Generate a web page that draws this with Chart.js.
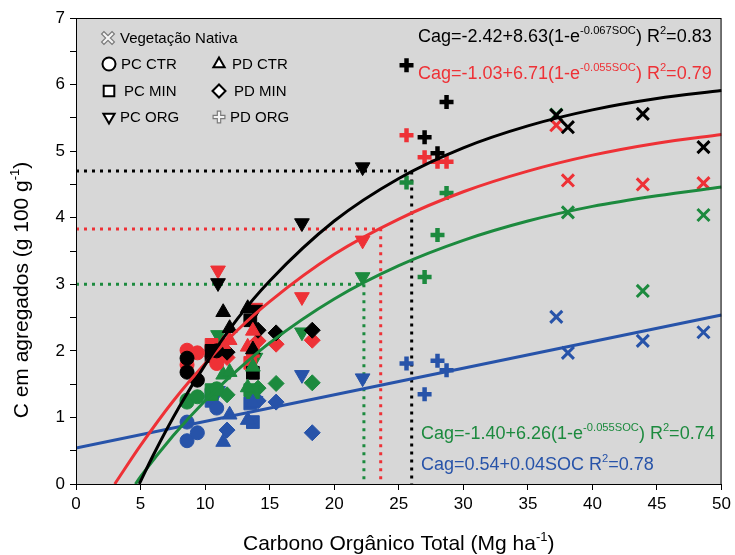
<!DOCTYPE html>
<html>
<head>
<meta charset="utf-8">
<script src="https://cdn.jsdelivr.net/npm/chart.js@4.4.0/dist/chart.umd.min.js"></script>
<style>
  html, body { margin: 0; padding: 0; background: #fff; }
</style>
</head>
<body>
<canvas id="chart" width="735" height="555"></canvas>
<script>
// fraction colours: black, red, green, blue
const fractionColors = ['#000000', '#EE3136', '#1C8A3E', '#2753A9'];

// treatments (x = SOC stock, y = one row per fraction)
const pcCtrX = [8.6, 8.6, 9.4, 10.9];
const pcCtrY = [[1.89, 1.68, 1.56, 2.00], [2.01, 1.79, 1.97, 1.81], [1.23, 1.26, 1.31, 1.43], [0.93, 0.65, 0.77, 1.14]];
const pdCtrX = [11.4, 11.9, 13.3, 13.7];
const pdCtrY = [[2.58, 2.34, 2.64, 2.02], [2.10, 2.16, 2.06, 2.30], [1.64, 1.68, 1.45, 1.76], [0.63, 1.04, 0.96, 1.22]];
const pcMinX = [10.5, 10.5, 13.5, 13.7];
const pcMinY = [[2.00, 1.92, 2.46, 1.67], [2.09, 1.98, 1.82, 2.00], [1.41, 1.35, 1.41, 1.38], [1.33, 1.25, 1.21, 0.93]];
const pdMinX = [11.7, 14.1, 15.5, 18.3];
const pdMinY = [[1.98, 2.31, 2.27, 2.31], [1.90, 2.15, 2.10, 2.16], [1.34, 1.44, 1.51, 1.52], [0.81, 1.25, 1.23, 0.77]];
const pcOrgX = [11.0, 13.9, 17.5, 22.2];
const pcOrgY = [[3.02, 2.62, 3.92, 4.76], [3.21, 2.65, 2.81, 3.66], [2.24, 1.90, 2.28, 3.11], [1.40, 1.25, 1.64, 1.59]];
const pdOrgX = [25.6, 27.0, 28.0, 28.7];
const pdOrgY = [[6.29, 5.21, 4.97, 5.74], [5.24, 4.91, 4.84, 4.84], [4.53, 3.11, 3.74, 4.37], [1.81, 1.35, 1.85, 1.71]];
const vnX = [37.2, 38.1, 43.9, 48.6];
const vnY = [[5.54, 5.36, 5.56, 5.06], [5.39, 4.56, 4.50, 4.52], [5.55, 4.08, 2.90, 4.04], [2.51, 1.97, 2.15, 2.28]];

// fitted curves, sampled
const fitBlackX = [4.9, 6, 8, 10, 12.5, 15, 20, 25, 30, 35, 40, 45, 50];
const fitBlackY = [0, 0.44, 1.16, 1.79, 2.48, 3.05, 3.95, 4.59, 5.05, 5.38, 5.62, 5.79, 5.91];
const fitRedX = [3.0, 5, 7.5, 10, 12.5, 15, 20, 25, 30, 35, 40, 45, 50];
const fitRedY = [0, 0.58, 1.24, 1.81, 2.31, 2.74, 3.45, 3.98, 4.39, 4.70, 4.94, 5.12, 5.25];
const fitGreenX = [4.6, 5, 7.5, 10, 12.5, 15, 20, 25, 30, 35, 40, 45, 50];
const fitGreenY = [0, 0.11, 0.72, 1.25, 1.71, 2.12, 2.78, 3.28, 3.66, 3.95, 4.17, 4.33, 4.46];
const fitBlueX = [0, 50];
const fitBlueY = [0.54, 2.54];

// dotted reference lines (black, red, green)
const refX = [26.0, 23.6, 22.3];
const refY = [4.70, 3.83, 3.00];
const refColors = ['#000000', '#EE3136', '#1C8A3E'];

const xTicks = [0, 50, 5];
const yTicks = [0, 7, 0.5];

const FONT = '"Liberation Sans", Arial, sans-serif';
const BG = '#d7d7d7';

const groups = [
  { name: 'PC CTR', x: pcCtrX, y: pcCtrY, style: 'circle', r: 7 },
  { name: 'PD CTR', x: pdCtrX, y: pdCtrY, style: 'triangle', r: 8.5 },
  { name: 'PC MIN', x: pcMinX, y: pcMinY, style: 'rect', r: 9 },
  { name: 'PD MIN', x: pdMinX, y: pdMinY, style: 'rectRot', r: 8 },
  { name: 'PC ORG', x: pcOrgX, y: pcOrgY, style: 'triangle', r: 8.5, rot: 180 },
  { name: 'PD ORG', x: pdOrgX, y: pdOrgY, style: 'cross', r: 7, bw: 4.5 },
  { name: 'Vegetação Nativa', x: vnX, y: vnY, style: 'crossRot', r: 8.5, bw: 3 }
];

const pts = (xs, ys) => xs.map((x, i) => ({ x: x, y: ys[i] }));

const datasets = [];
// curves on top
[[fitBlackX, fitBlackY], [fitRedX, fitRedY], [fitGreenX, fitGreenY], [fitBlueX, fitBlueY]].forEach((f, i) => {
  datasets.push({
    type: 'line', data: pts(f[0], f[1]), borderColor: fractionColors[i], borderWidth: 3,
    pointRadius: 0, cubicInterpolationMode: 'monotone', fill: false, order: 0
  });
});
groups.forEach(g => {
  g.y.forEach((row, c) => {
    datasets.push({
      data: pts(g.x, row),
      pointStyle: g.style,
      pointRadius: g.r,
      pointRotation: g.rot || 0,
      backgroundColor: fractionColors[c],
      borderColor: fractionColors[c],
      borderWidth: g.bw || 1,
      order: 1
    });
  });
});
refX.forEach((rx, i) => {
  datasets.push({
    type: 'line', data: [{ x: 0, y: refY[i] }, { x: rx, y: refY[i] }, { x: rx, y: 0 }],
    borderColor: refColors[i], borderWidth: 3, borderDash: [3, 5], pointRadius: 0,
    tension: 0, fill: false, order: 2
  });
});

// text with superscript parts
function richWidth(ctx, parts, size) {
  let w = 0;
  parts.forEach(p => {
    ctx.font = (p[1] ? size * 0.62 : size) + 'px ' + FONT;
    w += ctx.measureText(p[0]).width;
  });
  return w;
}
function drawRich(ctx, parts, x, y, size, color) {
  ctx.fillStyle = color;
  ctx.textBaseline = 'alphabetic';
  ctx.textAlign = 'left';
  parts.forEach(p => {
    const sup = p[1];
    ctx.font = (sup ? size * 0.62 : size) + 'px ' + FONT;
    ctx.fillText(p[0], x, sup ? y - size * 0.45 : y);
    x += ctx.measureText(p[0]).width;
  });
}

const decor = {
  id: 'decor',
  beforeDraw(chart) {
    const { ctx, chartArea: a } = chart;
    ctx.save();
    ctx.fillStyle = BG;
    ctx.fillRect(a.left, a.top, a.right - a.left, a.bottom - a.top);
    ctx.restore();
  },
  afterDraw(chart) {
    const { ctx, chartArea: a } = chart;
    ctx.save();
    ctx.strokeStyle = '#000';
    ctx.lineWidth = 1;
    ctx.strokeRect(a.left + 0.5, a.top + 0.5, a.right - a.left - 1, a.bottom - a.top);

    // legend
    const H = Chart.helpers;
    const items = [
      [6, 108, 38, 120], [0, 109, 64, 121], [1, 219, 64, 232],
      [2, 109, 91, 124], [3, 219, 91, 234], [4, 109, 117, 120], [5, 219, 117, 230]
    ];
    items.forEach(it => {
      const g = groups[it[0]];
      if (g.style === 'cross' || g.style === 'crossRot') {
        const r = g.style === 'cross' ? 6.5 : 8;
        ctx.lineCap = 'butt';
        ctx.strokeStyle = '#7a7a7a';
        ctx.lineWidth = 4.5;
        H.drawPoint(ctx, { pointStyle: g.style, radius: r, rotation: 0, borderWidth: 4.5 }, it[1], it[2]);
        ctx.strokeStyle = '#f4f4f4';
        ctx.lineWidth = 2.2;
        H.drawPoint(ctx, { pointStyle: g.style, radius: r - 1.2, rotation: 0, borderWidth: 2.2 }, it[1], it[2]);
      } else {
        ctx.fillStyle = '#fff';
        ctx.strokeStyle = '#000';
        ctx.lineWidth = 2;
        H.drawPoint(ctx, { pointStyle: g.style, radius: g.style === 'rect' ? 7.5 : 6.5, rotation: g.rot || 0, borderWidth: 2 }, it[1], it[2]);
      }
      ctx.fillStyle = '#000';
      ctx.font = '15px ' + FONT;
      ctx.textAlign = 'left';
      ctx.textBaseline = 'middle';
      ctx.fillText(g.name, it[3], it[2] + 1);
    });

    // equations
    drawRich(ctx, [['Cag=-2.42+8.63(1-e'], ['-0.067SOC', 1], [') R'], ['2', 1], ['=0.83']], 418, 42, 18, '#000');
    drawRich(ctx, [['Cag=-1.03+6.71(1-e'], ['-0.055SOC', 1], [') R'], ['2', 1], ['=0.79']], 418, 79, 18, '#EE3136');
    drawRich(ctx, [['Cag=-1.40+6.26(1-e'], ['-0.055SOC', 1], [') R'], ['2', 1], ['=0.74']], 421, 439, 18, '#1C8A3E');
    drawRich(ctx, [['Cag=0.54+0.04SOC R'], ['2', 1], ['=0.78']], 421, 470, 18, '#2753A9');

    // axis titles
    const xt = [['Carbono Orgânico Total (Mg ha'], ['-1', 1], [')']];
    const xw = richWidth(ctx, xt, 21);
    drawRich(ctx, xt, (a.left + a.right) / 2 - xw / 2, 550, 21, '#000');
    const yt = [['C em agregados (g 100 g'], ['-1', 1], [')']];
    const yw = richWidth(ctx, yt, 21);
    ctx.translate(28, 290);
    ctx.rotate(-Math.PI / 2);
    drawRich(ctx, yt, -yw / 2, 0, 21, '#000');
    ctx.restore();
  }
};

new Chart(document.getElementById('chart'), {
  type: 'scatter',
  data: { datasets: datasets },
  options: {
    responsive: false,
    animation: false,
    layout: { padding: { top: 18, right: 12, left: 0, bottom: 0 } },
    plugins: { legend: { display: false }, tooltip: { enabled: false } },
    scales: {
      x: {
        type: 'linear', min: xTicks[0], max: xTicks[1],
        ticks: { stepSize: xTicks[2], color: '#000', font: { size: 17, family: FONT }, padding: 4, maxRotation: 0 },
        grid: { drawOnChartArea: false, drawTicks: true, tickLength: 6, color: '#000' },
        border: { display: true, color: '#000' },
        title: { display: false },
        afterFit(s) { s.height = 71; }
      },
      y: {
        type: 'linear', min: yTicks[0], max: yTicks[1],
        ticks: { stepSize: yTicks[2], color: '#000', font: { size: 17, family: FONT }, padding: 5,
          callback: v => Number.isInteger(v) ? v : '' },
        grid: { drawOnChartArea: false, drawTicks: true, tickLength: 6, color: '#000' },
        border: { display: true, color: '#000' },
        title: { display: false },
        afterFit(s) { s.width = 76; }
      }
    }
  },
  plugins: [decor]
});
</script>
</body>
</html>
